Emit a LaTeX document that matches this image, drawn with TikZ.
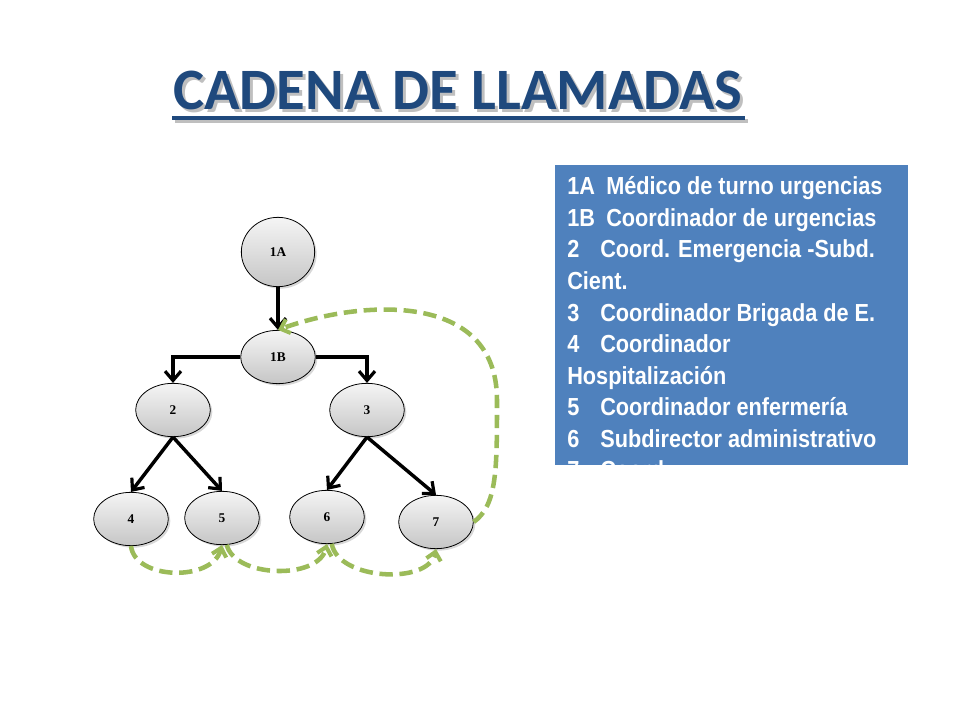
\documentclass[tikz,border=0pt]{standalone}
\usepackage{fontspec}
\setmainfont{Liberation Sans}
\newfontfamily\titlefont{Carlito}
\newfontfamily\labelfont{Liberation Serif}
\newfontfamily\listfont[FakeStretch=0.88]{Liberation Sans}
\usetikzlibrary{shapes.geometric,arrows.meta,shadows}
\definecolor{titleblue}{RGB}{31,73,125}
\definecolor{boxblue}{RGB}{79,129,189}
\definecolor{chaingreen}{RGB}{155,187,89}

\newcommand{\shadedtitle}[1]{\rlap{\kern2.2pt\raisebox{-2.2pt}{\color{gray!50}#1}}#1}

\tikzset{
  member/.style={ellipse,draw=black,semithick,top color=gray!8,bottom color=gray!45,
    minimum width=56pt,minimum height=40pt,inner sep=0pt,
    font=\labelfont\bfseries\fontsize{10}{10}\selectfont,
    drop shadow={shadow xshift=1.5pt,shadow yshift=-1.5pt,fill=gray!60}},
  call/.style={line width=2.6pt,-{Straight Barb[length=7pt,width=12pt,line width=2.4pt]}},
  relay/.style={chaingreen,line width=3.4pt,dash pattern=on 10pt off 5pt,
    -{Straight Barb[length=6pt,width=11pt,line width=3pt]}},
  listline/.style={anchor=base west,text=white,inner sep=0pt,
    font=\listfont\bfseries\fontsize{18.5}{18.5}\selectfont},
  heading/.style={anchor=base,inner sep=0pt,text=titleblue,
    font=\titlefont\bfseries\fontsize{44}{44}\selectfont}
}

\begin{document}
\begin{tikzpicture}[x=0.75pt,y=-0.75pt]
    \useasboundingbox (0,0) rectangle (960,720);

    % Title with shadow
    \fill[gray!50] (175,119) rectangle (748,123);
    \node[heading] (title) at (458,110) {\shadedtitle{CADENA DE LLAMADAS}};
    \fill[titleblue] (172,116) rectangle (745,120);

    % Legend box
    \fill[boxblue] (555,165) rectangle (908,465);
    \begin{scope}
        \clip (555,165) rectangle (908,465);
        \foreach \i/\num/\tx/\txt in {0/1A/606/Médico de turno urgencias,1/1B/606/Coordinador de urgencias,
            2/2/600/Coord. Emergencia -Subd.,3/Cient./600/{},4/3/600/Coordinador Brigada de E.,
            5/4/600/Coordinador,6/Hospitalización/600/{},7/5/600/Coordinador enfermería,
            8/6/600/Subdirector administrativo,9/7/600/Coord.}
        {
            \node[listline] (num\i) at (567,195+31.5*\i) {\num};
            \node[listline] (item\i) at (\tx,195+31.5*\i) {\txt};
        }
    \end{scope}

    % Call tree
    \node[member,minimum width=55pt,minimum height=52pt] (n1A) at (278,252) {1A};
    \node[member] (n1B) at (278,357) {1B};
    \node[member] (n2) at (173,410) {2};
    \node[member] (n3) at (367,410) {3};
    \node[member] (n4) at (131,519) {4};
    \node[member] (n5) at (222,518) {5};
    \node[member] (n6) at (327,517) {6};
    \node[member] (n7) at (436,522) {7};

    \draw[call] (n1A) -- (n1B);
    \draw[call] (n1B.west) -| (n2.north);
    \draw[call] (n1B.east) -| (n3.north);
    \draw[call] (n2.south) -- (n4.north);
    \draw[call] (n2.south) -- (n5.north);
    \draw[call] (n3.south) -- (n6.north);
    \draw[call] (n3.south) -- (n7.north);

    % Chain back
    \draw[relay] (n4.south) .. controls (135,580) and (212,582) .. (n5.south);
    \draw[relay] (n5.-80) .. controls (235,578) and (318,580) .. (n6.south);
    \draw[relay] (n6.-80) .. controls (338,580) and (428,585) .. (n7.south);
    \draw[relay] (n7.east) .. controls (497,505) and (497,470) .. (497,400)
        .. controls (497,290) and (360,300) .. (n1B.north);
\end{tikzpicture}
\end{document}
